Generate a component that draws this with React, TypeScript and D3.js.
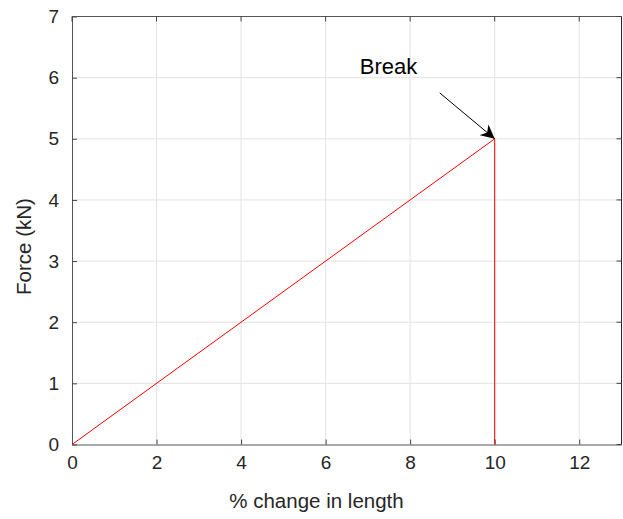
import React, { useEffect, useRef } from 'react';
import * as d3 from 'd3';

// data
const strain = [0, 10, 10];
const force = [0, 5, 0];
const xTicks = [0, 2, 4, 6, 8, 10, 12];
const yTicks = [0, 1, 2, 3, 4, 5, 6, 7];
const breakPoint = [10, 5];
const arrowStart = [8.7, 5.75];
const labelPos = [6.81, 6.06];

const W = 623, H = 519;
const margin = { top: 16.5, right: 1.5, bottom: 74.5, left: 72 };

function draw(el: SVGSVGElement) {
  const svg = d3.select(el);
  svg.selectAll('*').remove();
  const font = 'Liberation Sans, Arial, sans-serif';

  const x = d3.scaleLinear().domain([0, 13]).range([margin.left, W - margin.right]);
  const y = d3.scaleLinear().domain([0, 7]).range([H - margin.bottom, margin.top]);

  svg.append('rect').attr('width', W).attr('height', H).attr('fill', '#fff');

  // grid
  const grid = svg.append('g').attr('stroke', '#e3e3e3').attr('stroke-width', 1);
  grid.selectAll('.gx').data(xTicks.slice(1)).join('line')
    .attr('x1', d => x(d)).attr('x2', d => x(d))
    .attr('y1', y(0)).attr('y2', y(7));
  grid.selectAll('.gy').data(yTicks.slice(1)).join('line')
    .attr('y1', d => y(d)).attr('y2', d => y(d))
    .attr('x1', x(0)).attr('x2', x(13));

  // axes with inward ticks
  const xAxis = svg.append('g')
    .attr('transform', `translate(0,${y(0)})`)
    .call(d3.axisBottom(x).tickValues(xTicks).tickFormat(d3.format('d')).tickSizeInner(-5).tickSizeOuter(0).tickPadding(11));
  const yAxis = svg.append('g')
    .attr('transform', `translate(${x(0)},0)`)
    .call(d3.axisLeft(y).tickValues(yTicks).tickFormat(d3.format('d')).tickSizeInner(-5).tickSizeOuter(0).tickPadding(13));
  for (const ax of [xAxis, yAxis]) {
    ax.select('.domain').attr('stroke', '#555');
    ax.selectAll('.tick line').attr('stroke', '#444');
    ax.selectAll('.tick text').attr('fill', '#262626')
      .style('font-family', font).style('font-size', '19px');
  }

  // top and right box edges with ticks
  svg.append('line').attr('x1', x(0)).attr('x2', x(13)).attr('y1', y(7)).attr('y2', y(7)).attr('stroke', '#555');
  svg.append('line').attr('x1', x(13)).attr('x2', x(13)).attr('y1', y(7)).attr('y2', y(0)).attr('stroke', '#262626');
  svg.append('g').selectAll('line').data(xTicks).join('line')
    .attr('x1', d => x(d)).attr('x2', d => x(d))
    .attr('y1', y(7)).attr('y2', y(7) + 5).attr('stroke', '#444');
  svg.append('g').selectAll('line').data(yTicks).join('line')
    .attr('x1', x(13)).attr('x2', x(13) - 5)
    .attr('y1', d => y(d)).attr('y2', d => y(d)).attr('stroke', '#444');

  // the curve
  const pts = strain.map((s, i) => [s, force[i]] as [number, number]);
  svg.append('path')
    .datum(pts)
    .attr('fill', 'none')
    .attr('stroke', '#ff0000')
    .attr('stroke-width', 1)
    .attr('d', d3.line<[number, number]>().x(d => x(d[0])).y(d => y(d[1])));

  // annotation arrow
  svg.append('defs').append('marker')
    .attr('id', 'ah').attr('viewBox', '0 0 10 10')
    .attr('refX', 10).attr('refY', 5)
    .attr('markerWidth', 14).attr('markerHeight', 14)
    .attr('markerUnits', 'userSpaceOnUse')
    .attr('orient', 'auto')
    .append('path').attr('d', 'M0,0 L10,5 L0,10 L3,5 Z').attr('fill', '#000');
  svg.append('line')
    .attr('x1', x(arrowStart[0])).attr('y1', y(arrowStart[1]))
    .attr('x2', x(breakPoint[0])).attr('y2', y(breakPoint[1]))
    .attr('stroke', '#000').attr('stroke-width', 1)
    .attr('marker-end', 'url(#ah)');
  svg.append('text')
    .attr('x', x(labelPos[0])).attr('y', y(labelPos[1]))
    .style('font-family', font).style('font-size', '22px').attr('fill', '#000')
    .text('Break');

  // axis titles
  svg.append('text')
    .attr('x', 316.5).attr('y', 508)
    .attr('text-anchor', 'middle')
    .style('font-family', font).style('font-size', '20.5px').attr('fill', '#262626')
    .text('% change in length');
  svg.append('text')
    .attr('transform', `translate(31,246.5) rotate(-90)`)
    .attr('text-anchor', 'middle')
    .style('font-family', font).style('font-size', '20.5px').attr('fill', '#262626')
    .text('Force (kN)');
}

export default function App() {
  const ref = useRef<SVGSVGElement>(null);
  useEffect(() => {
    if (ref.current) draw(ref.current);
  }, []);
  return (
    <svg ref={ref} width={W} height={H}
      style={{ position: 'absolute', left: 0, top: 0, display: 'block' }} />
  );
}
